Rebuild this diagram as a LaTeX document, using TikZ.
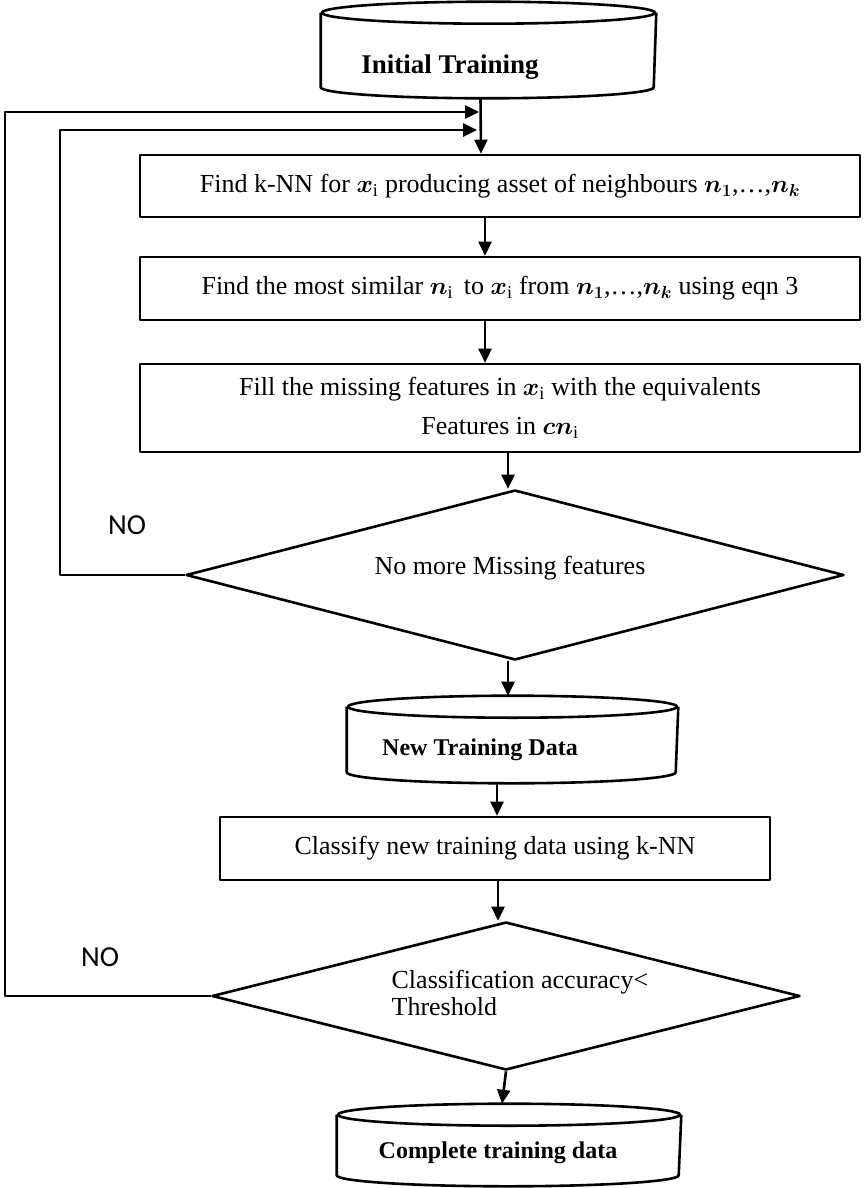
\documentclass[tikz,border=0pt]{standalone}
\usepackage{fontspec}
\usepackage{bm}
\setmainfont{Liberation Serif}
\newfontfamily\nofont{Carlito}
\usetikzlibrary{arrows.meta,calc,shapes.geometric}
\begin{document}
\begin{tikzpicture}[x=1pt,y=1pt, line width=2.6pt, line join=round,
  arr/.style={-{Triangle[length=14pt,width=13pt]}},
  procbox/.style={draw, rectangle, inner sep=0pt, align=center, font=\fontsize{26}{39}\selectfont},
  decision/.style={draw, diamond, inner sep=0pt},
  cylbox/.style={rectangle, inner sep=0pt},
  cyltext/.style={font=\fontsize{24}{28}\selectfont\bfseries},
  plain/.style={font=\fontsize{26}{27}\selectfont, align=left},
  nolabel/.style={font=\fontsize{29}{30}\selectfont\nofont}]
\useasboundingbox (0,0) rectangle (863,-1188);

% data stores
\node[cylbox, minimum width=333pt, minimum height=94pt] (cyl1) at (488.5,-50) {};
\draw (cyl1.north west) ++(0,-11) -- ($(cyl1.south west)+(0,11)$)
   arc[start angle=180, end angle=360, x radius=166.5, y radius=11] -- ($(cyl1.north east)+(0,-11)$);
\draw ($(cyl1.north)+(0,-11)$) ellipse[x radius=166.5, y radius=11];
\node[cyltext, font=\fontsize{27}{30}\selectfont\bfseries] (cyl1t) at (450,-67) {Initial Training};

\node[cylbox, minimum width=329pt, minimum height=85pt] (ntd) at (512.5,-739.5) {};
\draw (ntd.north west) ++(0,-11) -- ($(ntd.south west)+(0,11)$)
   arc[start angle=180, end angle=360, x radius=164.5, y radius=11] -- ($(ntd.north east)+(0,-11)$);
\draw ($(ntd.north)+(0,-11)$) ellipse[x radius=164.5, y radius=11];
\node[cyltext] (ntdt) at (480,-750) {New Training Data};

\node[cylbox, minimum width=342pt, minimum height=80pt] (cmp) at (509,-1145) {};
\draw (cmp.north west) ++(0,-11) -- ($(cmp.south west)+(0,11)$)
   arc[start angle=180, end angle=360, x radius=171, y radius=11] -- ($(cmp.north east)+(0,-11)$);
\draw ($(cmp.north)+(0,-11)$) ellipse[x radius=171, y radius=11];
\node[cyltext] (cmpt) at (498,-1153) {Complete training data};

% process boxes
\node[procbox, minimum width=720pt, minimum height=62pt] (box1) at (500,-186)
  {Find k-NN for $\bm{x}_{\mathrm{i}}$ producing asset of neighbours $\bm{n}_{\bm{1}}$,\dots,$\bm{n}_{\bm{k}}$};
\node[procbox, minimum width=720pt, minimum height=63pt] (box2) at (500,-288.5)
  {Find the most similar $\bm{n}_{\mathrm{i}}$\, to $\bm{x}_{\mathrm{i}}$ from $\bm{n}_{\bm{1}}$,\dots,$\bm{n}_{\bm{k}}$ using eqn 3};
\node[procbox, minimum width=720pt, minimum height=88pt] (box3) at (500,-408)
  {Fill the missing features in $\bm{x}_{\mathrm{i}}$ with the equivalents\\ Features in $\bm{cn}_{\mathrm{i}}$};
\node[procbox, minimum width=550pt, minimum height=63pt] (cls) at (495,-848.5)
  {Classify new training data using k-NN};

% decisions
\node[decision, minimum width=658pt, minimum height=170pt] (dia1) at (515,-575) {};
\node[plain] (dia1t) at (510,-568) {No more Missing features};
\node[decision, minimum width=588pt, minimum height=148pt] (dia2) at (506,-996) {};
\node[plain, anchor=west] (dia2t) at (387,-993) {Classification accuracy<\\Threshold};

% labels
\node[nolabel] (no1) at (127,-525) {NO};
\node[nolabel] (no2) at (100,-957) {NO};

% loop targets
\coordinate (tip2) at (479,-112);
\coordinate (tip1) at (477,-130);
\coordinate (c1) at (60,-130);
\coordinate (c2) at (5,-112);

% connectors
\draw[arr] ([xshift=-8pt]cyl1.south) -- ([xshift=-19pt]box1.north);
\draw[arr] ([xshift=-15pt]box1.south) -- ([xshift=-15pt]box2.north);
\draw[arr] ([xshift=-15pt]box2.south) -- ([xshift=-15pt]box3.north);
\draw[arr] ([xshift=8pt]box3.south) -- ([xshift=8pt]box3.south |- dia1.north);
\draw[arr] ([xshift=-7pt]dia1.south) -- ([xshift=-7pt]dia1.south |- ntd.north);
\draw[arr] ([xshift=2pt]cls.north |- ntd.south) -- ([xshift=2pt]cls.north);
\draw[arr] ([xshift=3pt]cls.south) -- ([xshift=3pt]cls.south |- dia2.north);
\draw[arr] (dia2.south) -- ([xshift=-7pt]cmp.north);
\draw[arr] (dia1.west) -| (c1) -- (tip1);
\draw[arr] (dia2.west) -| (c2) -- (tip2);
\end{tikzpicture}
\end{document}
